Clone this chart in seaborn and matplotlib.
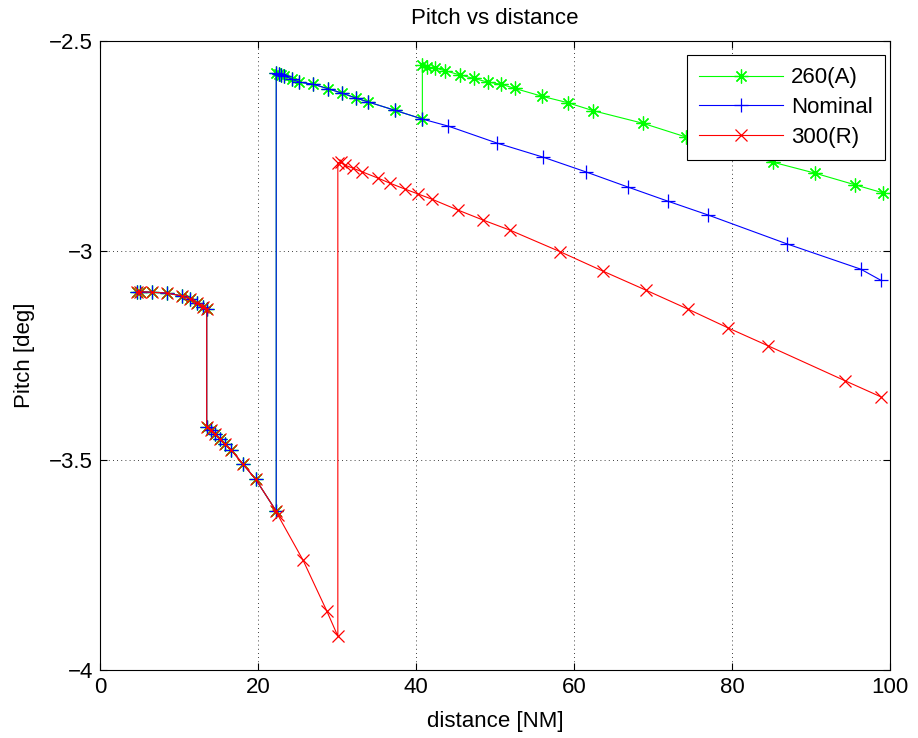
import pandas as pd
import matplotlib
matplotlib.use("Agg")
import matplotlib.pyplot as plt
import seaborn as sns

plt.rcParams['font.family'] = ['Liberation Sans', 'DejaVu Sans']

# shared approach segment (all three runs)
common_x = [4.7, 5.1, 6.6, 8.5, 10.4, 11.4, 12.3, 13.0, 13.5,
            13.5, 14.1, 14.6, 15.2, 15.8, 16.6, 18.1, 19.7, 22.3]
common_y = [-3.099, -3.098, -3.099, -3.101, -3.108, -3.115, -3.125, -3.134, -3.140,
            -3.421, -3.428, -3.437, -3.449, -3.461, -3.475, -3.509, -3.545, -3.621]

# nominal after the jump
nom_x = [22.3, 22.6, 22.9, 23.3, 24.3, 25.2, 27.0, 28.9, 30.6, 32.4, 33.9, 37.3, 40.8,
         44.1, 50.2, 56.1, 61.5, 66.8, 71.9, 77.0, 87.0, 96.3, 98.8]
nom_y = [-2.576, -2.578, -2.581, -2.583, -2.591, -2.598, -2.603, -2.614, -2.624, -2.636,
         -2.645, -2.665, -2.686, -2.703, -2.743, -2.777, -2.812, -2.848, -2.882, -2.915,
         -2.984, -3.044, -3.070]

# 260(A): follows nominal up to 40.8 then jumps
a_x = [40.8, 41.4, 42.4, 43.7, 45.6, 47.3, 49.1, 50.8, 52.5, 56.0, 59.2, 62.4,
       68.7, 74.2, 79.7, 85.2, 90.5, 95.6, 99.1]
a_y = [-2.557, -2.562, -2.564, -2.571, -2.581, -2.589, -2.598, -2.603, -2.613, -2.632,
       -2.647, -2.666, -2.696, -2.729, -2.759, -2.789, -2.815, -2.843, -2.862]

# 300(R): continues descent then jumps at 30
r_desc_x = [22.5, 25.7, 28.7, 30.1]
r_desc_y = [-3.630, -3.738, -3.859, -3.919]
r_x = [30.1, 30.5, 31.0, 32.0, 33.2, 35.2, 36.7, 38.6, 40.3, 42.0, 45.3, 48.5, 51.9,
       58.2, 63.7, 69.1, 74.4, 79.5, 84.6, 94.3, 98.8]
r_y = [-2.791, -2.789, -2.796, -2.803, -2.812, -2.827, -2.839, -2.853, -2.865, -2.877,
       -2.903, -2.927, -2.951, -3.002, -3.049, -3.094, -3.139, -3.184, -3.227, -3.310,
       -3.348]

green_df = pd.DataFrame({"x": common_x + nom_x[:13] + a_x,
                         "y": common_y + nom_y[:13] + a_y})
blue_df = pd.DataFrame({"x": common_x + nom_x, "y": common_y + nom_y})
red_df = pd.DataFrame({"x": common_x + r_desc_x + r_x, "y": common_y + r_desc_y + r_y})

fig = plt.figure(figsize=(9.18, 7.38), dpi=100)
ax = fig.add_axes([0.109, 0.092, 0.8605, 0.8524])

series = [(green_df, "260(A)", "#00ff00", (8, 2, 0), 10),
          (blue_df, "Nominal", "#0000ff", "+", 10),
          (red_df, "300(R)", "#ff0000", "x", 8)]
for d, lab, col, mk, ms in series:
    sns.lineplot(data=d, x="x", y="y", ax=ax, sort=False, estimator=None,
                 color=col, marker=mk, markersize=ms, markeredgecolor=col,
                 markeredgewidth=0.9, linewidth=0.8, label=lab)

ax.set_xlim(0, 100)
ax.set_ylim(-4, -2.5)
ax.set_xticks([0, 20, 40, 60, 80, 100])
ax.set_yticks([-4, -3.5, -3, -2.5])
ax.set_yticklabels(["\u22124", "\u22123.5", "\u22123", "\u22122.5"])
ax.tick_params(direction="in", top=True, right=True, labelsize=16, length=5, pad=5)
ax.grid(True, linestyle=(0, (1, 4)), color="black", linewidth=0.6)
for s in ax.spines.values():
    s.set_linewidth(0.8)

ax.set_title("Pitch vs distance", fontsize=16, pad=12)
ax.set_xlabel("distance [NM]", fontsize=16, labelpad=9)
ax.set_ylabel("Pitch [deg]", fontsize=16, labelpad=10)

leg = ax.legend(loc="upper right", bbox_to_anchor=(0.9937, 0.9777), borderaxespad=0,
                fontsize=16, handlelength=3.8, handletextpad=0.35,
                fancybox=False, framealpha=1, edgecolor="black",
                labelspacing=0.4, borderpad=0.55)
leg.get_frame().set_linewidth(0.8)

fig.savefig("out.png", dpi=100)
